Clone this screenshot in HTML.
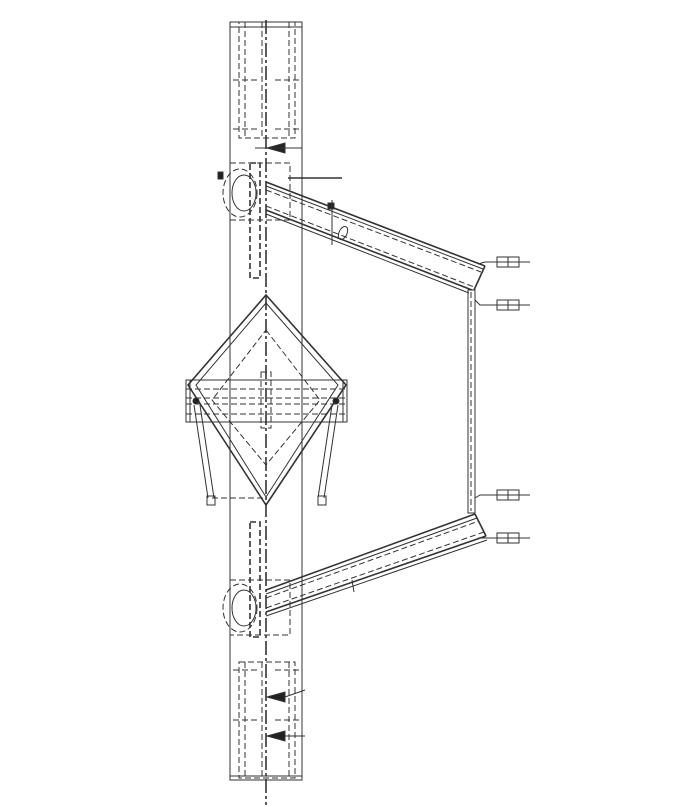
<!DOCTYPE html>
<html><head><meta charset="utf-8"><style>
html,body{margin:0;padding:0;background:#fff;}
svg{display:block}
line,rect,ellipse,polyline,path{fill:none;stroke:#333;stroke-width:1}
.d{stroke-dasharray:6 3}
.c{stroke-dasharray:14 3 3 3;stroke-width:1.6}
.t{stroke-width:1.6}
</style></head><body>
<svg width="681" height="807" viewBox="0 0 681 807">
<g>
<rect x="230" y="22" width="72" height="758"/>
<line x1="230" y1="27" x2="302" y2="27"/>
<line x1="230" y1="776" x2="302" y2="776"/>
<line class="c" x1="266" y1="20" x2="266" y2="805"/>
</g>
<g>
<rect class="d" x="239" y="22" width="56" height="116"/>
<line class="d" x1="245" y1="22" x2="245" y2="138"/>
<line class="d" x1="289" y1="22" x2="289" y2="138"/>
<line class="d" x1="262" y1="22" x2="262" y2="138"/>
<line class="d" x1="233" y1="80" x2="258" y2="80"/>
<line class="d" x1="275" y1="80" x2="300" y2="80"/>
<line class="d" x1="233" y1="129" x2="258" y2="129"/>
<line class="d" x1="275" y1="129" x2="300" y2="129"/>
</g>
<g>
<rect class="d" x="239" y="662" width="56" height="116"/>
<line class="d" x1="245" y1="662" x2="245" y2="778"/>
<line class="d" x1="289" y1="662" x2="289" y2="778"/>
<line class="d" x1="262" y1="662" x2="262" y2="778"/>
<line class="d" x1="233" y1="720" x2="258" y2="720"/>
<line class="d" x1="275" y1="720" x2="300" y2="720"/>
<line class="d" x1="233" y1="670" x2="258" y2="670"/>
<line class="d" x1="275" y1="670" x2="300" y2="670"/>
<path d="M267 697 L285 692 L285 702 Z" style="fill:#222"/>
<line x1="285" y1="697" x2="305" y2="690"/>
<path d="M267 736 L285 731 L285 741 Z" style="fill:#222"/>
<line x1="285" y1="736" x2="305" y2="736"/>
</g>
<g>
<path d="M267 148 L285 143 L285 153 Z" style="fill:#222"/>
<line x1="255" y1="148" x2="302" y2="148"/>
<rect class="d" x="230" y="163" width="60" height="57"/>
<rect class="d t" x="250" y="163" width="10" height="115"/>
<ellipse class="d" cx="240" cy="193" rx="17" ry="24"/>
<ellipse cx="244" cy="193" rx="12" ry="18"/>
<line class="t" x1="288" y1="178" x2="342" y2="178"/>
<rect x="218" y="172" width="5" height="7" style="fill:#222"/>
</g>
<g>
<line class="t" x1="266" y1="182" x2="485" y2="266"/>
<line x1="266" y1="186" x2="483" y2="269"/>
<line class="d" x1="266" y1="190" x2="481" y2="272"/>
<line class="t" x1="266" y1="210" x2="472" y2="290"/>
<line x1="266" y1="214" x2="469" y2="293"/>
<line class="d" x1="266" y1="206" x2="474" y2="287"/>
<line class="t" x1="485" y1="266" x2="474" y2="290"/>
<rect x="328" y="203" width="6" height="6" style="fill:#222"/>
<line x1="332" y1="200" x2="332" y2="245"/>
<ellipse cx="343" cy="233" rx="4" ry="7" transform="rotate(25 343 233)"/>
</g>
<g>
<rect x="468" y="290" width="7" height="223"/>
<line class="d" x1="471" y1="292" x2="471" y2="511"/>
</g>
<g>
<polyline points="478,264 485,262 530,262"/><rect x="497" y="257" width="22" height="10"/><line x1="508" y1="257" x2="508" y2="267"/>
<polyline points="475,300 480,305 530,305"/><rect x="497" y="300" width="22" height="10"/><line x1="508" y1="300" x2="508" y2="310"/>
<polyline points="475,498 480,495 530,495"/><rect x="497" y="490" width="22" height="10"/><line x1="508" y1="490" x2="508" y2="500"/>
<polyline points="478,538 485,538 530,538"/><rect x="497" y="533" width="22" height="10"/><line x1="508" y1="533" x2="508" y2="543"/>
</g>
<g>
<line class="t" x1="266" y1="590" x2="475" y2="514"/>
<line x1="266" y1="594" x2="477" y2="518"/>
<line class="d" x1="266" y1="598" x2="479" y2="521"/>
<line class="t" x1="266" y1="612" x2="486" y2="536"/>
<line x1="266" y1="616" x2="487" y2="540"/>
<line class="d" x1="266" y1="608" x2="484" y2="532"/>
<line class="t" x1="475" y1="514" x2="486" y2="536"/>
<line x1="352" y1="580" x2="354" y2="592"/>
</g>
<g>
<rect class="d" x="230" y="580" width="60" height="55"/>
<rect class="d t" x="250" y="522" width="10" height="115"/>
<ellipse class="d" cx="240" cy="608" rx="17" ry="24"/>
<ellipse cx="244" cy="608" rx="12" ry="18"/>
</g>
<g>
<polygon points="266,295 346,385 266,505 188,385" style="fill:none;stroke:#333;stroke-width:1.6"/>
<polygon points="266,303 338,385 266,497 196,385" style="fill:none;stroke:#333"/>
<polygon class="d" points="266,330 320,400 266,465 212,400" style="fill:none;stroke:#333"/>
</g>
<g>
<rect x="186" y="380" width="161" height="42"/>
<line x1="190" y1="380" x2="190" y2="422"/>
<line x1="343" y1="380" x2="343" y2="422"/>
<line class="d" x1="186" y1="389" x2="347" y2="389"/>
<line class="d" x1="186" y1="398" x2="347" y2="398"/>
<line class="d" x1="186" y1="404" x2="347" y2="404"/>
<line class="d" x1="186" y1="414" x2="347" y2="414"/>
<rect class="d" x="261" y="372" width="10" height="56"/>
<ellipse cx="196" cy="401" rx="3" ry="3" style="fill:#222"/>
<ellipse cx="336" cy="401" rx="3" ry="3" style="fill:#222"/>
</g>
<g>
<line x1="194" y1="405" x2="208" y2="498"/>
<line x1="200" y1="405" x2="214" y2="498"/>
<rect x="207" y="496" width="8" height="9"/>
<line x1="338" y1="405" x2="324" y2="498"/>
<line x1="332" y1="405" x2="318" y2="498"/>
<rect x="318" y="496" width="8" height="9"/>
<line class="d" x1="212" y1="498" x2="266" y2="498"/>
</g>
</svg>
</body></html>
